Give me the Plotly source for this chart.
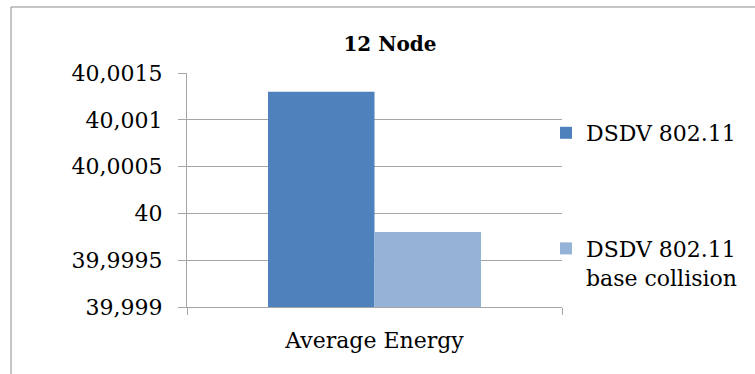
import plotly.graph_objects as go

# Average energy per protocol variant, 12-node scenario
categories = ["Average Energy"]
series_names = ["DSDV 802.11", "DSDV 802.11<br>base collision"]
dsdv_values = [40.0013]
dsdv_collision_values = [39.9998]
series_colors = ["#4F81BD", "#95B3D7"]

y_tick_values = [39.999, 39.9995, 40.0, 40.0005, 40.001, 40.0015]
y_tick_labels = ["39,999", "39,9995", "40", "40,0005", "40,001", "40,0015"]

FONT = "DejaVu Serif"
GRID = "#A6A6A6"

W, H = 755, 374
L, R, T, B = 187, 193, 73, 67
pw, ph = W - L - R, H - T - B

fig = go.Figure()
for name, vals, color, grp in zip(series_names, [dsdv_values, dsdv_collision_values],
                                  series_colors, ["a", "b"]):
    fig.add_trace(go.Bar(
        x=categories, y=vals, name=name, legendgroup=grp,
        marker=dict(color=color, line=dict(width=0)),
    ))

# outer chart frame
fig.add_shape(type="rect", xref="paper", yref="paper",
              x0=(11 - L) / pw, x1=(W + 5 - L) / pw,
              y0=(H - B - (H + 5)) / ph, y1=(H - B - 7) / ph,
              line=dict(color="#8C8C8C", width=1), fillcolor="rgba(0,0,0,0)",
              layer="below")

fig.update_layout(
    width=W, height=H,
    margin=dict(l=L, r=R, t=T, b=B, pad=0),
    paper_bgcolor="white", plot_bgcolor="white",
    barmode="group", bargap=0.432, bargroupgap=0,
    font=dict(family=FONT, size=22, color="black"),
    title=dict(text="<b>12 Node</b>", x=390 / W, xref="container", xanchor="center",
               y=1 - 44 / H, yref="container", yanchor="middle",
               font=dict(family=FONT, size=20, color="black")),
    legend=dict(x=(546 - L) / pw, xanchor="left", y=(H - B - 112) / ph, yanchor="top",
                valign="top", tracegroupgap=84, bgcolor="rgba(0,0,0,0)",
                font=dict(family=FONT, size=22, color="black")),
    showlegend=True,
)

fig.update_yaxes(
    range=[39.999, 40.0015], tickvals=y_tick_values, ticktext=y_tick_labels,
    showgrid=True, gridcolor=GRID, gridwidth=1,
    showline=True, linecolor=GRID, linewidth=1,
    ticks="outside", ticklen=8, tickcolor=GRID,
    ticklabelstandoff=11, zeroline=False,
    tickfont=dict(family=FONT, size=22, color="black"),
)
fig.update_xaxes(
    showline=True, linecolor=GRID, linewidth=1,
    ticks="outside", ticklen=7, tickcolor=GRID, tickson="boundaries",
    ticklabelstandoff=14,
    tickfont=dict(family=FONT, size=22, color="black"),
)

fig.write_html("out.html")
